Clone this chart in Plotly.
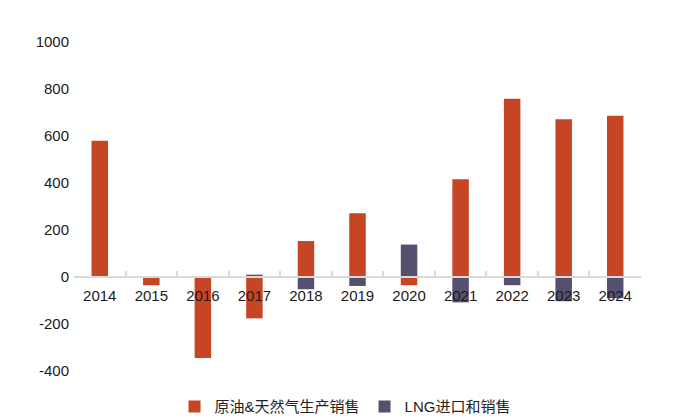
import plotly.graph_objects as go

years = ["2014", "2015", "2016", "2017", "2018", "2019", "2020", "2021", "2022", "2023", "2024"]
oil_gas = [580, -35, -345, -176, 153, 271, -35, 416, 759, 671, 686]
lng = [0, 0, 0, 10, -52, -38, 138, -108, -35, -103, -90]
y_ticks = [-400, -200, 0, 200, 400, 600, 800, 1000]
y_tick_text = ["-400", "-200", "0", "200", "400", "600", "800", "1000"]

oil_color = "#C64524"
lng_color = "#56506F"
font_family = "Liberation Sans, Arial, Noto Sans CJK SC, sans-serif"

fig = go.Figure()
fig.add_trace(go.Bar(
    x=years, y=oil_gas, name="原油&天然气生产销售",
    marker=dict(color=oil_color, line=dict(width=0)),
))
fig.add_trace(go.Bar(
    x=years, y=lng, name="LNG进口和销售",
    marker=dict(color=lng_color, line=dict(width=0)),
))

fig.update_layout(
    width=677, height=416,
    barmode="relative",
    bargap=0.68,
    plot_bgcolor="white",
    paper_bgcolor="white",
    margin=dict(l=74, r=36, t=42, b=45, autoexpand=False),
    font=dict(family=font_family, size=15, color="#1a1a1a"),
    legend=dict(
        orientation="h", x=0.478, xanchor="center",
        yref="container", y=0.022, yanchor="middle",
        font=dict(size=15, color="#222222"), itemwidth=30, traceorder="normal",
        tracegroupgap=0,
    ),
    showlegend=True,
)

fig.update_xaxes(
    type="category",
    anchor="free", position=400 / 1400,
    showline=True, linecolor="#d9d9d9", linewidth=2,
    ticks="inside", tickson="boundaries", ticklen=5, tickcolor="#d9d9d9", tickwidth=1.5,
    showgrid=False, zeroline=False,
    tickfont=dict(size=15, color="#1a1a1a"),
    ticklabelstandoff=5,
)
fig.update_yaxes(
    range=[-400, 1000],
    tickvals=y_ticks, ticktext=y_tick_text,
    showgrid=False, zeroline=False, showline=False,
    ticks="", tickfont=dict(size=15, color="#1a1a1a"),
    ticklabelstandoff=4,
)

fig.write_html("out.html")
